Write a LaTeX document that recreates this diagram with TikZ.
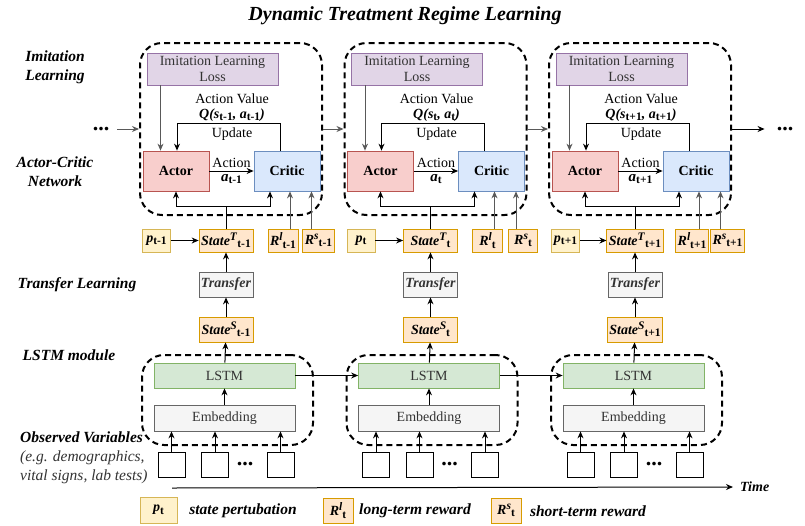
\documentclass[tikz,border=0pt]{standalone}
\usepackage{fontspec}
\setmainfont{Liberation Serif}
\usetikzlibrary{arrows.meta}
\newcommand{\bfit}[1]{\textbf{\textit{#1}}}
\newcommand{\sbx}[1]{\raisebox{-0.35ex}{\fontsize{11.5}{12}\selectfont\textbf{#1}}}
\newcommand{\spx}[1]{\raisebox{0.8ex}{\fontsize{11.5}{12}\selectfont\bfit{#1}}}
\definecolor{lossfill}{HTML}{E1D5E7}\definecolor{lossdraw}{HTML}{9673A6}
\definecolor{actfill}{HTML}{F8CECC}\definecolor{actdraw}{HTML}{B85450}
\definecolor{crifill}{HTML}{DAE8FC}\definecolor{cridraw}{HTML}{6C8EBF}
\definecolor{pfill}{HTML}{FFF2CC}\definecolor{pdraw}{HTML}{D6B656}
\definecolor{stfill}{HTML}{FFE6CC}\definecolor{stdraw}{HTML}{D79B00}
\definecolor{grfill}{HTML}{F5F5F5}\definecolor{grdraw}{HTML}{666666}
\definecolor{lsfill}{HTML}{D5E8D4}\definecolor{lsdraw}{HTML}{82B366}
\definecolor{txtgray}{HTML}{333333}
\begin{document}
\begin{tikzpicture}[x=1pt,y=-1pt,
    every node/.style={inner sep=0pt,font=\fontsize{14}{16}\selectfont},
    box/.style={draw,line width=0.8pt,minimum height=23,inner xsep=2pt},
    pbox/.style={box,fill=pfill,draw=pdraw,minimum width=28},
    sbox/.style={box,fill=stfill,draw=stdraw},
    gbox/.style={box,fill=grfill,draw=grdraw,text=txtgray},
    dbox/.style={draw,line width=2pt,dash pattern=on 6pt off 4pt,rounded corners=22pt},
    lab/.style={font=\fontsize{15.5}{19}\selectfont\bfseries\itshape,align=center},
    dots/.style={font=\fontsize{22}{22}\selectfont\bfseries},
    arr/.style={line width=1pt,-{Stealth[length=7pt,width=6pt]}},
    garr/.style={arr,draw=black!65}]
\useasboundingbox (0,0) rectangle (805,525);

\node[font=\fontsize{20}{22}\selectfont\bfseries\itshape] (title) at (405,16) {Dynamic Treatment Regime Learning};

\node[lab] (il) at (55,67) {Imitation\\Learning};
\node[lab] (ac) at (55,172) {Actor-Critic\\Network};
\node[lab] (tl) at (77,285) {Transfer Learning};
\node[lab] (lm) at (69,355) {LSTM module};
\node[lab,align=left,anchor=west,font=\fontsize{15.5}{19}\selectfont] (ov) at (20,458)
    {\bfit{Observed Variables}\\\textit{\color{txtgray}(e.g. demographics,}\\\textit{\color{txtgray}vital signs, lab tests)}};

\foreach \i/\s in {0/{t-1},1/t,2/{t+1}}{
\begin{scope}[xshift=\i*204.5]
    \node[dbox,minimum width=182,minimum height=172] (B\i) at (231,129) {};
    \node[box,fill=lossfill,draw=lossdraw,text=txtgray,minimum width=131,minimum height=32,align=center] (IL\i) at (212.5,69) {Imitation Learning\\Loss};
    \node[box,fill=actfill,draw=actdraw,minimum width=66,minimum height=40] (A\i) at (176,171) {\textbf{Actor}};
    \node[box,fill=crifill,draw=cridraw,minimum width=66,minimum height=40] (C\i) at (287,171) {\textbf{Critic}};
    \node (av\i) at (232,99) {Action Value};
    \node (q\i) at (232,115) {\bfit{Q(s}\sbx{\s}\bfit{, a}\sbx{\s}\bfit{)}};
    \node (up\i) at (232,134) {Update};

    \node[pbox] (p\i) at (156.5,240.5) {\bfit{p}\sbx{\s}};
    \node[sbox,minimum width=54] (T\i) at (226,240.5) {\bfit{State}\spx{T}\sbx{\s}};
    \node[sbox,minimum width=30] (Rl\i) at (283,240.5) {\bfit{R}\spx{l}\sbx{\s}};
    \node[sbox,minimum width=29] (Rs\i) at (318.5,240.5) {\bfit{R}\spx{s}\sbx{\s}};
    \node[gbox,minimum width=54,minimum height=25] (TR\i) at (226,284.5) {\bfit{Transfer}};
    \node[sbox,minimum width=54,minimum height=25] (S\i) at (226,329.5) {\bfit{State}\spx{S}\sbx{\s}};

    \node[dbox,minimum width=171,minimum height=90] (M\i) at (227.5,400) {};
    \node[box,fill=lsfill,draw=lsdraw,text=txtgray,minimum width=141,minimum height=25] (L\i) at (224.5,375.5) {LSTM};
    \node[gbox,minimum width=141,minimum height=26] (E\i) at (224.5,418) {Embedding};
    \node[box,minimum width=27,minimum height=25] (xa\i) at (171.5,464.5) {};
    \node[box,minimum width=27,minimum height=25] (xb\i) at (215,464.5) {};
    \node[box,minimum width=27,minimum height=25] (xc\i) at (280.5,464.5) {};
    \node[dots] (xd\i) at (245,464) {...};

    \path[arr] (A\i) edge node[above=3pt] {Action} node[below=3pt] {\fontsize{15}{16}\selectfont\bfit{a}\sbx{\s}} (C\i);
    \draw[arr] ([xshift=-7pt]C\i.north) -- ++(0,-27) -| ([xshift=1pt]A\i.north);
    \draw[garr] ([xshift=-52pt]IL\i.south) -- ([xshift=-52pt]IL\i.south |- A\i.north);
    \draw[arr] (p\i) -- (T\i);
    \draw[arr] (T\i.north) -- ++(0,-22) -| (A\i.south);
    \draw[arr] (T\i.north) -- ++(0,-22) -| ([xshift=-17pt]C\i.south);
    \draw[garr] ([xshift=7pt]Rl\i.north) -- ([xshift=7pt]Rl\i.north |- C\i.south);
    \draw[garr] ([xshift=-7pt]Rs\i.north) -- ([xshift=-7pt]Rs\i.north |- C\i.south);
    \draw[arr] (TR\i) -- (T\i);
    \draw[arr] (S\i) -- (TR\i);
    \draw[arr] (L\i) -- (S\i);
    \draw[arr] (E\i) -- (L\i);
    \draw[arr] (xa\i) -- (xa\i |- E\i.south);
    \draw[arr] (xb\i) -- (xb\i |- E\i.south);
    \draw[arr] (xc\i) -- (xc\i |- E\i.south);
\end{scope}
}

\node[dots] (dl) at (101,129) {...};
\node[dots] (dr) at (785,129) {...};
\draw[garr] (dl.east) ++(8,0) -- (B0.west);
\draw[garr] (B0) -- (B1);
\draw[garr] (B1) -- (B2);
\draw[arr] (B2.east) -- ([xshift=-12pt]dr.west);
\draw[arr] (L0) -- (L1);
\draw[arr] (L1) -- (L2);

\coordinate (t0) at (172,488);
\node[anchor=west,inner xsep=7pt] (tm) at (733,487) {\bfit{Time}};
\draw[arr] (t0) -- (tm.west);

\node[pbox,minimum width=37,minimum height=26] (kp) at (158.5,510) {\bfit{p}\sbx{t}};
\node[lab] (kpt) at (243,511) {state pertubation};
\node[sbox,minimum width=30,minimum height=25] (kl) at (338,510.5) {\bfit{R}\spx{l}\sbx{t}};
\node[lab] (klt) at (415,511) {long-term reward};
\node[sbox,minimum width=30,minimum height=25] (ks) at (506,510.5) {\bfit{R}\spx{s}\sbx{t}};
\node[lab] (kst) at (588,511) {short-term reward};
\end{tikzpicture}
\end{document}
